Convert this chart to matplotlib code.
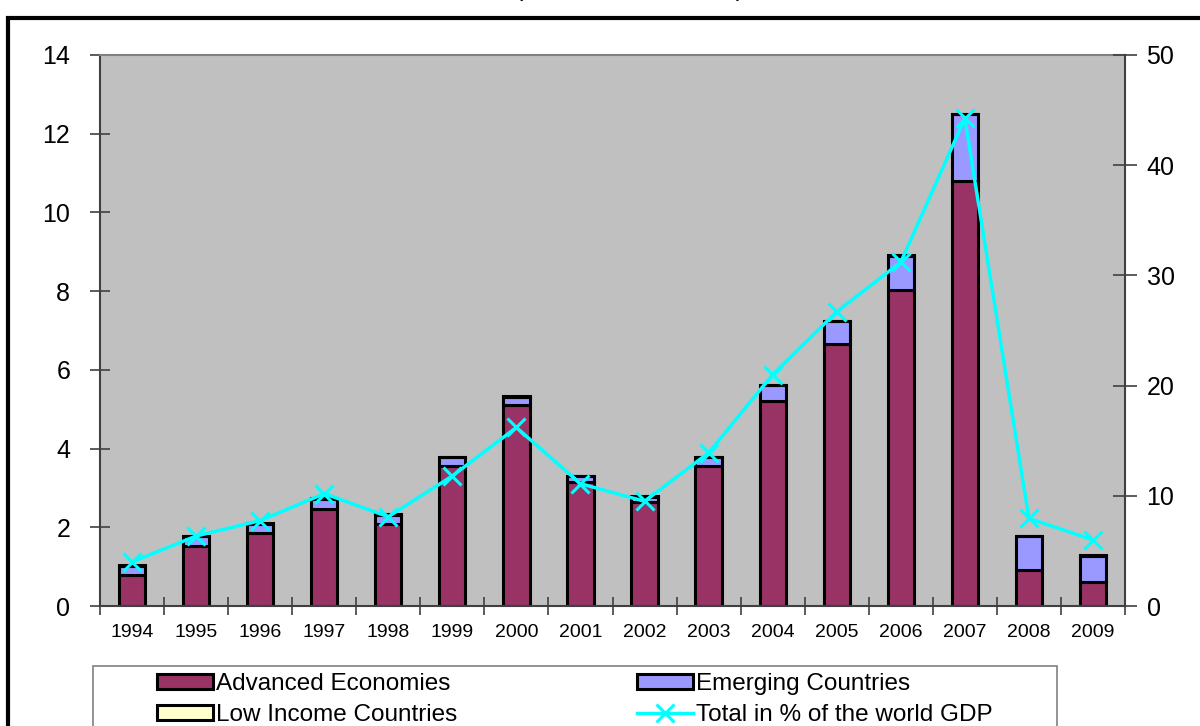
import matplotlib
matplotlib.use("Agg")
import matplotlib.pyplot as plt
from matplotlib.patches import Rectangle, Patch
from matplotlib.lines import Line2D
import numpy as np

plt.rcParams['font.family'] = ['Liberation Sans', 'DejaVu Sans']

years = ['1994', '1995', '1996', '1997', '1998', '1999', '2000', '2001',
         '2002', '2003', '2004', '2005', '2006', '2007', '2008', '2009']
advanced = [0.79, 1.53, 1.85, 2.46, 2.08, 3.56, 5.10, 3.14,
            2.65, 3.56, 5.22, 6.66, 8.03, 10.80, 0.91, 0.61]
emerging = [0.23, 0.24, 0.24, 0.27, 0.24, 0.22, 0.22, 0.16,
            0.13, 0.22, 0.39, 0.58, 0.87, 1.69, 0.86, 0.67]
low_income = [0.01, 0.01, 0.01, 0.01, 0.01, 0.01, 0.01, 0.01,
              0.01, 0.01, 0.01, 0.01, 0.01, 0.01, 0.01, 0.01]
total_pct_gdp = [4.0, 6.35, 7.75, 10.2, 8.1, 11.8, 16.2, 11.1,
                 9.5, 13.9, 21.0, 26.7, 31.2, 44.25, 7.95, 6.0]

c_adv = '#993366'
c_emg = '#9999FF'
c_low = '#FFFFCC'
c_line = '#00FFFF'

fig = plt.figure(figsize=(12, 7.26), dpi=100)
W, H = 1200, 726

ax = fig.add_axes([100 / W, 1 - 606 / H, 1025 / W, 551 / H])
ax.set_facecolor('#C0C0C0')

x = np.arange(len(years))
bw = 0.41
adv = np.array(advanced)
emg = np.array(emerging)
low = np.array(low_income)
ax.bar(x, adv, bw, color=c_adv, edgecolor='black', linewidth=2.2, zorder=2)
ax.bar(x, emg, bw, bottom=adv, color=c_emg, edgecolor='black', linewidth=2.2, zorder=2)
ax.bar(x, low, bw, bottom=adv + emg, color=c_low, edgecolor='black', linewidth=2.2, zorder=2)

ax.set_xlim(-0.5, len(years) - 0.5)
ax.set_ylim(0, 14)
ax.set_yticks(np.arange(0, 15, 2))
ax.set_xticks(x)
ax.set_xticklabels(years)
ax.set_xticks(np.arange(-0.5, len(years), 1.0), minor=True)
ax.tick_params(axis='x', which='major', length=0, labelsize=14, pad=13)
ax.tick_params(axis='x', which='minor', direction='inout', length=13, width=1.2, color='#404040')
ax.tick_params(axis='y', direction='inout', length=15, width=1.2, color='#404040',
               labelsize=18, pad=14)

for side in ['left', 'bottom']:
    ax.spines[side].set_color('#404040')
    ax.spines[side].set_linewidth(1.5)
ax.spines['top'].set_color('#808080')
ax.spines['top'].set_linewidth(1.5)
ax.spines['right'].set_visible(False)

ax2 = ax.twinx()
ax2.plot(x, total_pct_gdp, color=c_line, linewidth=2.5, marker='x',
         markersize=13, markeredgewidth=2.2, zorder=3)
ax2.set_ylim(0, 50)
ax2.set_yticks(np.arange(0, 51, 10))
ax2.tick_params(axis='y', direction='inout', length=17, width=1.2, color='#404040',
                labelsize=18, pad=7)
ax2.spines['right'].set_color('#404040')
ax2.spines['right'].set_linewidth(1.5)
for side in ['left', 'top', 'bottom']:
    ax2.spines[side].set_visible(False)

# outer chart frame
fig.patches.append(Rectangle((8 / W, -0.2), 1.3, 1.2 - 18 / H,
                             transform=fig.transFigure, fill=False,
                             edgecolor='black', linewidth=3, zorder=0))
fig.text(630 / W, 1 + 4 / H, '(in trillions of dollars)', ha='center',
         va='baseline', fontsize=18)

# legend frame and entries
fig.patches.append(Rectangle((93 / W, 1 - 740 / H), 964 / W, 74 / H,
                             transform=fig.transFigure, fill=True, facecolor='white',
                             edgecolor='#808080', linewidth=1.2, zorder=1))

def patch(c):
    return Patch(facecolor=c, edgecolor='black', linewidth=2.2)

leg_kw = dict(frameon=False, fontsize=17.5, handlelength=2.3, handleheight=0.6,
              handletextpad=0.12, labelspacing=0.38, borderpad=0, borderaxespad=0,
              loc='upper left')
l1 = fig.legend([patch(c_adv), patch(c_low)],
                ['Advanced Economies', 'Low Income Countries'],
                bbox_to_anchor=(157 / W, 1 - 673 / H), **leg_kw)
line_handle = Line2D([], [], color=c_line, linewidth=2.5, marker='x',
                     markersize=13, markeredgewidth=2.2)
l2 = fig.legend([patch(c_emg), line_handle],
                ['Emerging Countries', 'Total in % of the world GDP'],
                bbox_to_anchor=(637 / W, 1 - 673 / H), **leg_kw)

fig.savefig('out.png', dpi=100)
